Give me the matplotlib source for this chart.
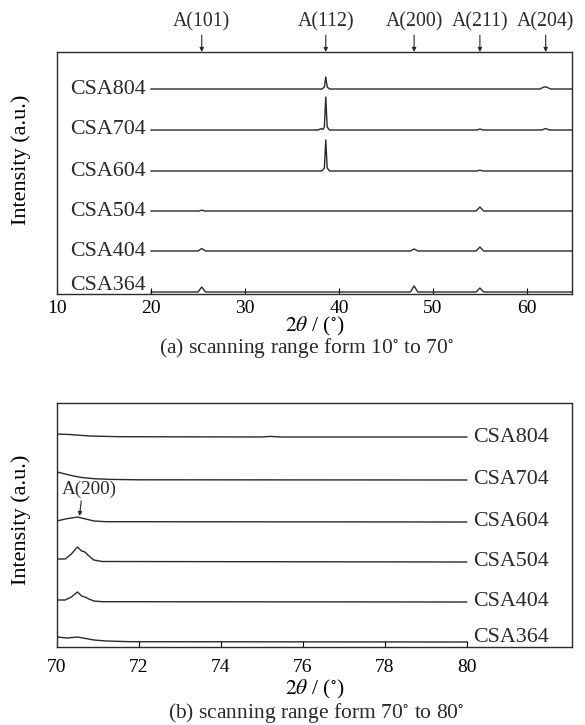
import numpy as np
import matplotlib
matplotlib.use("Agg")
import matplotlib.pyplot as plt

plt.rcParams['font.family'] = ['Liberation Serif', 'DejaVu Serif']
plt.rcParams['mathtext.fontset'] = 'stix'

# ---- panel (a): 2theta 10-70, curves (intensity a.u.) ----
a_names = ["CSA364", "CSA404", "CSA504", "CSA604", "CSA704", "CSA804"]
a_offsets = [2, 43, 83, 123, 164, 205]

a_x_364 = [20, 25.0, 25.4, 25.8, 47.6, 48.0, 48.4, 54.6, 55.0, 55.4, 64.8]
a_y_364 = [0, 0, 5, 0, 0, 6, 0, 0, 4, 0, 0]
a_x_404 = [20, 25.0, 25.4, 25.8, 47.6, 48.0, 48.4, 54.6, 55.0, 55.4, 64.8]
a_y_404 = [0, 0, 2.5, 0, 0, 2, 0, 0, 4, 0, 0]
a_x_504 = [20, 25.1, 25.4, 25.7, 54.6, 55.0, 55.4, 64.8]
a_y_504 = [0, 0, 0.8, 0, 0, 4, 0, 0]
a_x_604 = [20, 38.2, 38.45, 38.6, 38.75, 39.0, 54.7, 55.0, 55.3, 64.8]
a_y_604 = [0, 0, 3, 31, 3, 0, 0, 0.8, 0, 0]
a_x_704 = [20, 37.8, 38.1, 38.3, 38.45, 38.6, 38.75, 39.0, 54.7, 55.0, 55.3,
           61.6, 62.0, 62.4, 64.8]
a_y_704 = [0, 0, 1.5, 0.5, 3, 33, 3, 0, 0, 1, 0, 0, 1.5, 0, 0]
a_x_804 = [20, 38.2, 38.45, 38.6, 38.75, 39.0, 61.4, 61.8, 62.1, 62.5, 64.8]
a_y_804 = [0, 0, 2, 12, 2, 0, 0, 2, 2, 0, 0]

a_peak_labels = ["A(101)", "A(112)", "A(200)", "A(211)", "A(204)"]
a_peak_pos = [25.4, 38.6, 48.0, 55.0, 62.0]
a_ticks = [10, 20, 30, 40, 50, 60]

# ---- panel (b): 2theta 70-80 ----
b_names = ["CSA364", "CSA404", "CSA504", "CSA604", "CSA704", "CSA804"]
b_offsets = [5, 45, 85, 125, 167, 210]

b_x_364 = [70, 70.25, 70.5, 70.7, 70.9, 71.2, 71.8, 80]
b_y_364 = [5, 4, 5, 3.5, 2, 1, 0.3, 0]
b_x_404 = [70, 70.2, 70.35, 70.5, 70.6, 70.68, 70.78, 70.9, 71.1, 80]
b_y_404 = [2, 2, 5, 10, 6, 5, 3, 1, 0.3, 0]
b_x_504 = [70, 70.2, 70.35, 70.5, 70.6, 70.68, 70.78, 70.9, 71.1, 80]
b_y_504 = [3, 3, 8, 15, 11, 10, 6, 2, 0.5, 0]
b_x_604 = [70, 70.2, 70.5, 70.7, 70.9, 71.2, 80]
b_y_604 = [1, 3, 5, 3, 1, 0.3, 0]
b_x_704 = [70, 70.2, 70.4, 70.6, 70.9, 71.3, 72.0, 80]
b_y_704 = [8, 6, 4, 2.5, 1.3, 0.6, 0.2, 0]
b_x_804 = [70, 70.3, 70.8, 71.5, 75.0, 75.2, 75.5, 80]
b_y_804 = [3, 2.5, 1, 0.3, 0, 0.6, 0, 0]

b_ticks = [70, 72, 74, 76, 78, 80]

LC = "#2a2a2a"
FS_TICK = 14
FS_NAME = 15.8
FS_PEAK = 14.3
FS_LABEL = 15.5
FS_CAP = 15.5

fig = plt.figure(figsize=(5.85, 7.25), dpi=100)
W, H = 585.0, 725.0

# panel (a)
ax1 = fig.add_axes([57 / W, 1 - 294 / H, 515 / W, 242 / H])
a_x = [a_x_364, a_x_404, a_x_504, a_x_604, a_x_704, a_x_804]
a_y = [a_y_364, a_y_404, a_y_504, a_y_604, a_y_704, a_y_804]
for name, off, xs, ys in zip(a_names, a_offsets, a_x, a_y):
    ax1.plot(xs, np.array(ys) + off, color=LC, lw=1.0)
    dy = 7 if off < 10 else 0
    ax1.text(19.5, off + dy, name, ha="right", va="center", fontsize=FS_NAME, color=LC)

ax1.set_xlim(10, 64.8)
ax1.set_ylim(0, 242)
ax1.set_xticks(a_ticks)
ax1.set_yticks([])
ax1.tick_params(axis="x", direction="in", length=4, labelsize=FS_TICK, pad=4)
ax1.set_xlabel(r"$2\theta$ / ($^{\circ}$)", fontsize=FS_LABEL, labelpad=-1)
ax1.set_ylabel("Intensity (a.u.)", fontsize=16)
ax1.yaxis.set_label_coords(-0.05, 0.554)

for lab, pos in zip(a_peak_labels, a_peak_pos):
    ax1.annotate(lab, xy=(pos, 1.0), xycoords=("data", "axes fraction"),
                 xytext=(0, 21), textcoords="offset pixels",
                 ha="center", va="bottom", fontsize=FS_PEAK, color=LC,
                 arrowprops=dict(arrowstyle="-|>", lw=0.8, color=LC,
                                 mutation_scale=6, shrinkA=1, shrinkB=0))

fig.text(307 / W, 1 - 348 / H, r"(a) scanning range form 10$^{\circ}$ to 70$^{\circ}$",
         ha="center", va="center", fontsize=FS_CAP, color=LC)

# panel (b)
ax2 = fig.add_axes([57 / W, 1 - 647 / H, 515 / W, 244 / H])
b_x = [b_x_364, b_x_404, b_x_504, b_x_604, b_x_704, b_x_804]
b_y = [b_y_364, b_y_404, b_y_504, b_y_604, b_y_704, b_y_804]
for name, off, xs, ys in zip(b_names, b_offsets, b_x, b_y):
    ax2.plot(xs, np.array(ys) + off, color=LC, lw=1.0)
    dy = 5 if off < 10 else 0
    ax2.text(80.15, off + dy, name, ha="left", va="center", fontsize=FS_NAME, color=LC)

ax2.set_xlim(70, 82.57)
ax2.set_ylim(0, 244)
ax2.set_xticks(b_ticks)
ax2.set_yticks([])
ax2.tick_params(axis="x", direction="in", length=4, labelsize=FS_TICK, pad=9)
ax2.set_xlabel(r"$2\theta$ / ($^{\circ}$)", fontsize=FS_LABEL, labelpad=1)
ax2.set_ylabel("Intensity (a.u.)", fontsize=16)
ax2.yaxis.set_label_coords(-0.05, 0.52)

ax2.annotate("A(200)", xy=(70.55, b_offsets[3] + 6), xycoords="data",
             xytext=(70.8, b_offsets[3] + 24), textcoords="data",
             ha="center", va="bottom", fontsize=13.8, color=LC,
             arrowprops=dict(arrowstyle="-|>", lw=0.8, color=LC,
                             mutation_scale=6, shrinkA=0, shrinkB=0,
                             relpos=(0.35, 0)))

fig.text(316 / W, 1 - 713 / H, r"(b) scanning range form 70$^{\circ}$ to 80$^{\circ}$",
         ha="center", va="center", fontsize=FS_CAP, color=LC)

for ax in (ax1, ax2):
    for s in ax.spines.values():
        s.set_color(LC)
        s.set_linewidth(1.0)

fig.savefig("out.png", dpi=100)
